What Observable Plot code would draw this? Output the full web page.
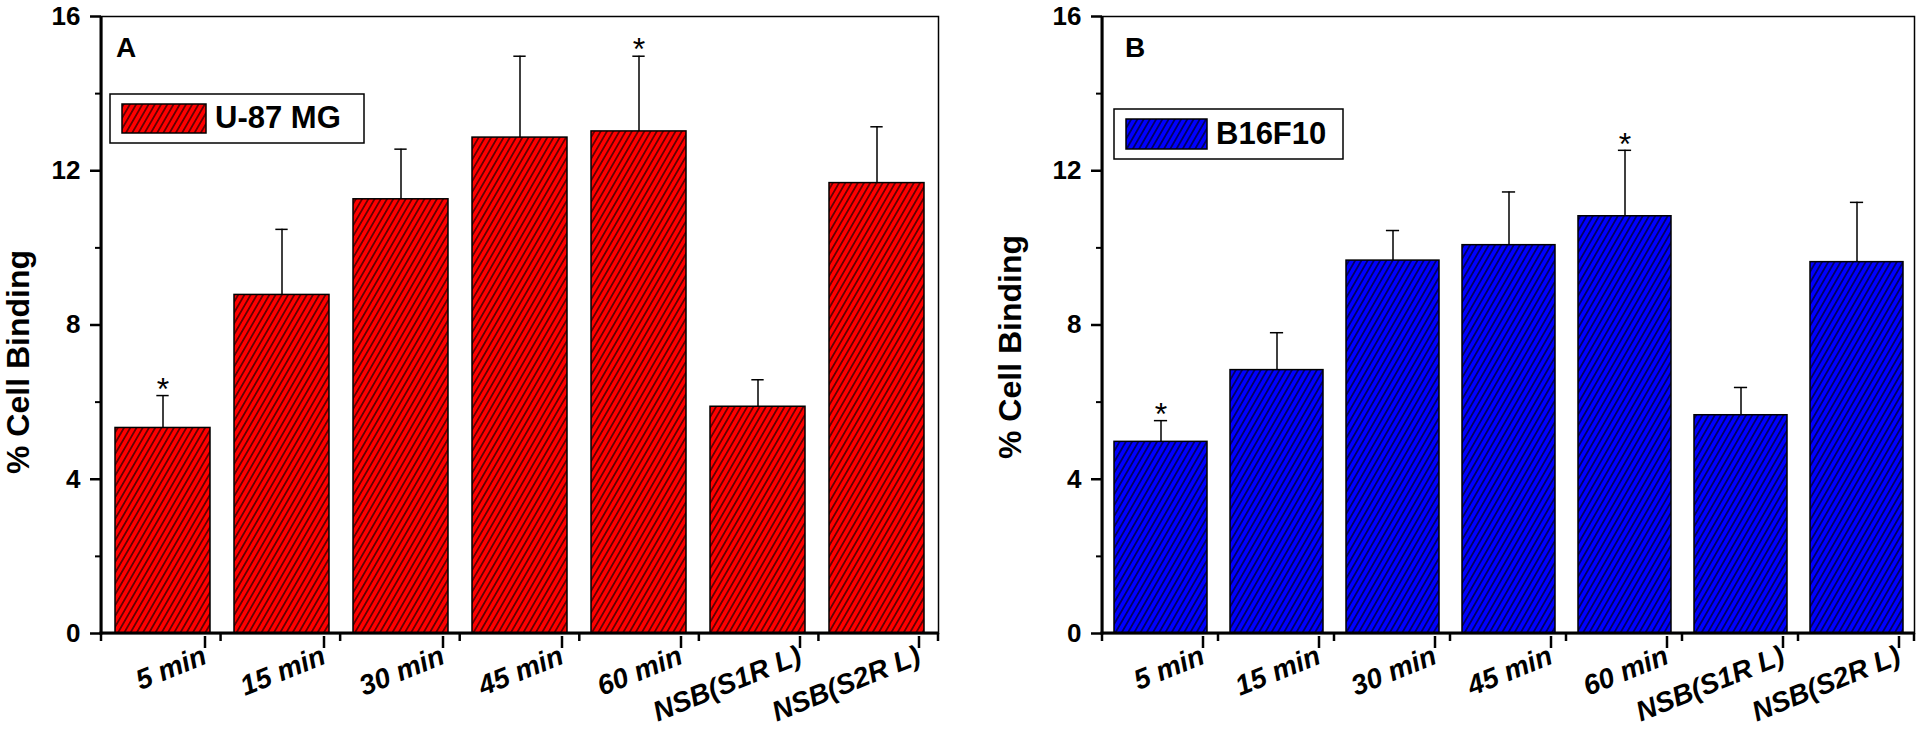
<!DOCTYPE html>
<html><head><meta charset="utf-8">
<script src="https://cdn.jsdelivr.net/npm/d3@7"></script>
<script src="https://cdn.jsdelivr.net/npm/@observablehq/plot@0.6"></script>
<style>
body{margin:0;background:#fff;width:1919px;height:735px;overflow:hidden;font-family:"Liberation Sans",Arial,sans-serif}
#wrap{position:relative;width:1919px;height:735px}
.panel{position:absolute;top:0}
</style></head><body><div id="wrap"><div id="pa" class="panel" style="left:0"></div><div id="pb" class="panel" style="left:960px"></div></div>
<script>
// ---- data ----
const categories = ["5 min","15 min","30 min","45 min","60 min","NSB(S1R L)","NSB(S2R L)"];
const u87Values = [5.33, 8.78, 11.26, 12.86, 13.02, 5.88, 11.68];
const u87Errors = [0.84, 1.70, 1.30, 2.11, 1.95, 0.70, 1.46];
const u87Stars  = ["*","","","","*","",""];
const b16Values = [4.97, 6.83, 9.67, 10.07, 10.82, 5.66, 9.63];
const b16Errors = [0.55, 0.97, 0.78, 1.38, 1.71, 0.72, 1.55];
const b16Stars  = ["*","","","","*","",""];
const yTicks = [0, 4, 8, 12, 16];
const yMinorTicks = [2, 6, 10, 14];
const yTitle = "% Cell Binding";

const FONT = "Liberation Sans, Arial, sans-serif";

function makePanel(cfg) {
  const data = categories.map((c, i) => ({cat: c, v: cfg.values[i], top: cfg.values[i] + cfg.errors[i], star: cfg.stars[i]}));
  const plotW = cfg.width - cfg.marginLeft - cfg.marginRight;
  const bw = 0.8 * plotW / categories.length;
  const capInset = (bw - 13) / 2;
  const plot = Plot.plot({
    width: cfg.width, height: 735,
    marginLeft: cfg.marginLeft, marginRight: cfg.marginRight, marginTop: 16, marginBottom: 102,
    x: {domain: categories, paddingInner: 0.2, paddingOuter: 0.1, label: null},
    y: {domain: [0, 16], label: null},
    style: {fontFamily: FONT, color: "#000", background: "transparent", overflow: "visible"},
    marks: [
      Plot.barY(data, {x: "cat", y: "v", fill: `url(#${cfg.pid})`, stroke: "#000", strokeWidth: 1.5}),
      Plot.ruleX(data, {x: "cat", y1: "v", y2: "top", stroke: "#000", strokeWidth: 1.5}),
      Plot.tickY(data, {x: "cat", y: "top", stroke: "#000", strokeWidth: 1.5, insetLeft: capInset, insetRight: capInset}),
      Plot.text(data.filter(d => d.star), {x: "cat", y: "top", text: "star", dy: -6, lineAnchor: "middle", fontSize: 32, fill: "#000"}),
      Plot.frame({stroke: "#000", strokeWidth: 1.5}),
      Plot.axisY({ticks: yTicks, tickSize: 11, tickPadding: 10, fontSize: 26, fontWeight: "bold", label: null, strokeWidth: 2.5}),
      Plot.axisY({ticks: yMinorTicks, tickSize: 6, tickFormat: () => "", label: null, strokeWidth: 2}),
      Plot.axisX({tickSize: 12, tickRotate: -22, fontSize: 28, fontWeight: "bold", fontStyle: "italic", label: null, strokeWidth: 2.5, tickPadding: 6, dx: 42, dy: 3})
    ]
  });
  const svg = d3.select(plot);
  const defs = svg.insert("defs", ":first-child");
  const P = 5.4;
  const p = defs.append("pattern").attr("id", cfg.pid).attr("patternUnits", "userSpaceOnUse")
    .attr("width", P).attr("height", P).attr("patternTransform", "rotate(30)");
  p.append("rect").attr("width", P).attr("height", P).attr("fill", cfg.color);
  p.append("line").attr("x1", P / 2).attr("y1", -1).attr("x2", P / 2).attr("y2", P + 1).attr("stroke", "#000").attr("stroke-width", 1.1);

  const xs = plot.scale("x"), ys = plot.scale("y");
  const [x0, x1] = xs.range;
  const [yb, yt] = ys.range;
  const step = (x1 - x0) / categories.length;
  // thick left and bottom axis lines
  svg.append("line").attr("x1", x0).attr("x2", x0).attr("y1", yt).attr("y2", yb + 1.5).attr("stroke", "#000").attr("stroke-width", 3);
  svg.append("line").attr("x1", x0 - 1.5).attr("x2", x1).attr("y1", yb).attr("y2", yb).attr("stroke", "#000").attr("stroke-width", 3);
  // minor x ticks at band boundaries
  for (let i = 0; i <= categories.length; i++) {
    svg.append("line").attr("x1", x0 + i * step).attr("x2", x0 + i * step).attr("y1", yb).attr("y2", yb + 8)
      .attr("stroke", "#000").attr("stroke-width", 2.5);
  }
  // y title
  svg.append("text").attr("transform", `translate(${cfg.titleX},${cfg.titleY}) rotate(-90)`).attr("text-anchor", "middle")
    .attr("dominant-baseline", "middle").attr("font-family", FONT).attr("font-weight", "bold").attr("font-size", 32).text(yTitle);
  // panel letter
  svg.append("text").attr("x", cfg.letterX).attr("y", 57).attr("text-anchor", "start").attr("font-family", FONT)
    .attr("font-weight", "bold").attr("font-size", 28).text(cfg.letter);
  // legend
  const L = cfg.legend;
  svg.append("rect").attr("x", L.x).attr("y", L.y).attr("width", L.w).attr("height", L.h).attr("fill", "#fff").attr("stroke", "#000").attr("stroke-width", 1.5);
  svg.append("rect").attr("x", L.x + 12).attr("y", L.y + 10).attr("width", L.sw).attr("height", L.h - 20)
    .attr("fill", `url(#${cfg.pid})`).attr("stroke", "#000").attr("stroke-width", 1.5);
  svg.append("text").attr("x", L.x + 12 + L.sw + 9).attr("y", L.y + L.h - 15).attr("text-anchor", "start")
    .attr("font-family", FONT).attr("font-weight", "bold").attr("font-size", 31).text(cfg.legendText);
  return plot;
}

document.getElementById("pa").appendChild(makePanel({
  values: u87Values, errors: u87Errors, stars: u87Stars, color: "#ff0000", pid: "hatchRed",
  width: 960, marginLeft: 101, marginRight: 22, titleX: 21, titleY: 362, letterX: 116, letter: "A",
  legend: {x: 110, y: 94, w: 254, h: 49, sw: 84}, legendText: "U-87 MG"
}));
document.getElementById("pb").appendChild(makePanel({
  values: b16Values, errors: b16Errors, stars: b16Stars, color: "#0000ff", pid: "hatchBlue",
  width: 959, marginLeft: 142, marginRight: 5, titleX: 53, titleY: 347, letterX: 165, letter: "B",
  legend: {x: 154, y: 109, w: 229, h: 50, sw: 81}, legendText: "B16F10"
}));
</script></body></html>
